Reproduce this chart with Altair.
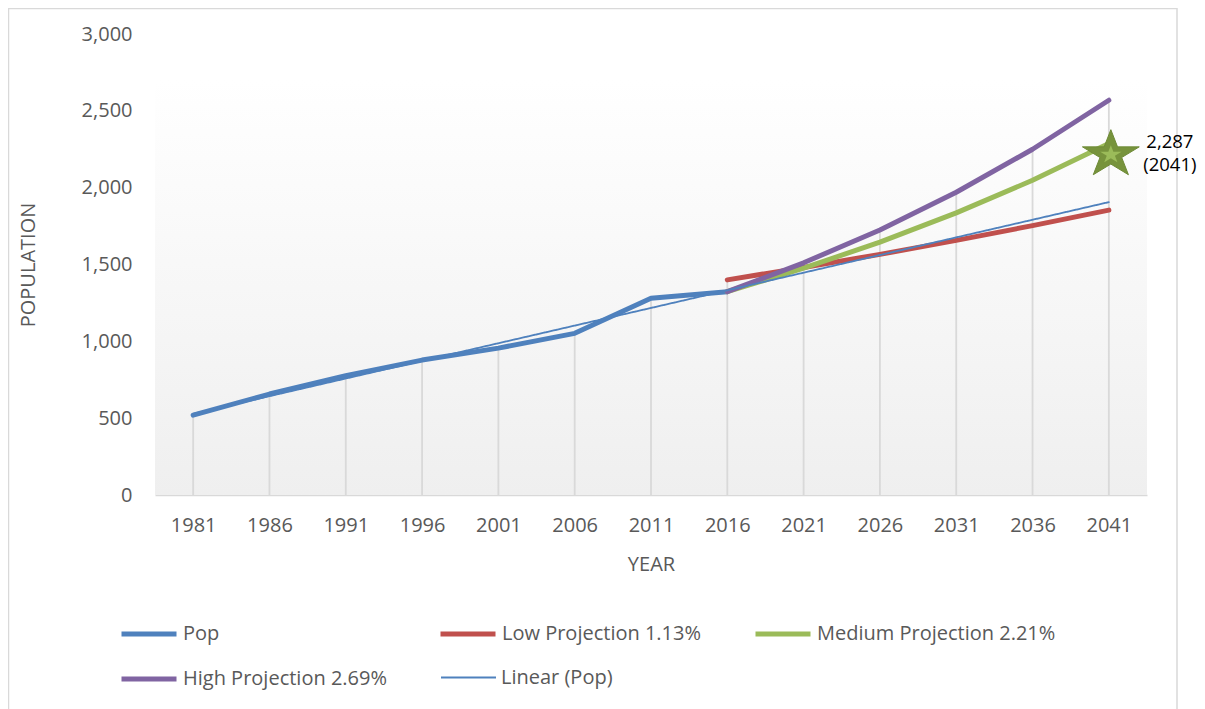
import altair as alt
import pandas as pd

FONT = "Open Sans"

# ---------------- data ----------------
years = [1981, 1986, 1991, 1996, 2001, 2006, 2011, 2016, 2021, 2026, 2031, 2036, 2041]
pop_years = [1981, 1986, 1991, 1996, 2001, 2006, 2011, 2016]
pop_values = [520, 657, 776, 878, 956, 1052, 1280, 1323]
proj_years = [2016, 2021, 2026, 2031, 2036, 2041]
low_values = [1400, 1481, 1566, 1657, 1753, 1854]
medium_values = [1323, 1476, 1646, 1836, 2048, 2287]
high_values = [1323, 1511, 1725, 1970, 2250, 2569]

series_names = ["Pop", "Low Projection 1.13%", "Medium Projection 2.21%",
                "High Projection 2.69%"]
series_colors = ["#4f81bd", "#c0504d", "#9bbb59", "#8064a2"]
trend_name = "Linear (Pop)"
trend_color = "#4f81bd"

y_ticks = [0, 500, 1000, 1500, 2000, 2500, 3000]

callout_year = [2041]
callout_value = [2287]
callout_text = ["2,287\n(2041)"]

# ---------------- tables ----------------
rows = []
for y, v in zip(pop_years, pop_values):
    rows.append({"Year": y, "value": v, "series": series_names[0]})
for name, vals in zip(series_names[1:4], [low_values, medium_values, high_values]):
    for y, v in zip(proj_years, vals):
        rows.append({"Year": y, "value": v, "series": name})
long_df = pd.DataFrame(rows)
pop_df = pd.DataFrame({"Year": pop_years, "Pop": pop_values})
star_df = pd.DataFrame({"Year": callout_year, "value": callout_value, "label": callout_text})

W, H = 992, 461
THICK, THIN = 5, 1.8

xscale = alt.Scale(domain=[1978.5, 2043.5], nice=False, zero=False)
yscale = alt.Scale(domain=[0, 3000], nice=False)
xaxis = alt.Axis(values=years, format="d", grid=False, ticks=False, domain=True,
                 domainColor="#d9d9d9", domainWidth=1.5, labelPadding=20,
                 labelFontSize=20, titleFontSize=20, titlePadding=19,
                 labelFlush=False, labelOverlap=False)
yaxis = alt.Axis(values=y_ticks, format=",.0f", grid=False, ticks=False, domain=False,
                 labelPadding=23, labelFontSize=20, titleFontSize=20, titlePadding=43)

X = alt.X("Year:Q", scale=xscale, axis=xaxis, title="YEAR")


def Y(field):
    return alt.Y(field, scale=yscale, axis=yaxis, title="POPULATION")


LEG_X, LEG_Y = -36, 570
common_leg = dict(title=None, orient="none", direction="horizontal",
                  symbolType="stroke", symbolSize=3025, labelFont=FONT,
                  labelFontSize=20, labelColor="#595959", labelOffset=4,
                  padding=0, labelLimit=500)

color_scale = alt.Scale(domain=series_names, range=series_colors)
legend = alt.Legend(legendX=LEG_X, legendY=LEG_Y, columns=3, columnPadding=43,
                    rowPadding=5, symbolStrokeWidth=THICK, **common_leg)
trend_legend = alt.Legend(legendX=LEG_X + 321, legendY=LEG_Y + 45,
                          symbolStrokeWidth=THIN, symbolStrokeColor=trend_color,
                          **common_leg)

# chart border (decoration)
border = alt.Chart(pd.DataFrame({"a": [0]})).mark_rect(
    fillOpacity=0, stroke="#d9d9d9", strokeWidth=1.5
).encode(x=alt.value(-146.5), x2=alt.value(1022), y=alt.value(-25.5), y2=alt.value(700))

# plot-area gradient
bg = alt.Chart(pd.DataFrame({"a": [0]})).mark_rect(
    fill=alt.LinearGradient(
        gradient="linear",
        stops=[alt.GradientStop(color="#ffffff", offset=0.1),
               alt.GradientStop(color="#efefef", offset=1)],
        x1=0, x2=0, y1=0, y2=1),
).encode(x=alt.value(0), x2=alt.value(W), y=alt.value(0), y2=alt.value(H))

drops = alt.Chart(long_df).transform_aggregate(
    top="max(value)", groupby=["Year"]
).mark_rule(color="#d9d9d9", strokeWidth=1.8).encode(
    x=X, y=Y("top:Q"), y2=alt.datum(0)
)

lines = alt.Chart(long_df).mark_line(
    strokeCap="round", strokeJoin="round", strokeWidth=THICK
).encode(
    x=X, y=Y("value:Q"),
    color=alt.Color("series:N", scale=color_scale, legend=legend),
)

trend = alt.Chart(pop_df).transform_regression(
    "Year", "Pop", extent=[1981, 2041]
).mark_line(strokeCap="round", strokeWidth=THIN, color=trend_color).encode(
    x=X, y=Y("Pop:Q"),
    strokeDash=alt.StrokeDash(
        "name:N",
        scale=alt.Scale(domain=[trend_name], range=[[1, 0]]),
        legend=trend_legend),
).transform_calculate(name=f"'{trend_name}'")

sx = 1.2
pts = [(0, -1), (0.2245, -0.309), (0.951, -0.309), (0.363, 0.118), (0.588, 0.809),
       (0, 0.382), (-0.588, 0.809), (-0.363, 0.118), (-0.951, -0.309), (-0.2245, -0.309)]
star_path = "M" + "L".join(f"{px * sx:.3f},{py:.3f}" for px, py in pts) + "Z"

star_outer = alt.Chart(star_df).mark_point(
    shape=star_path, size=2480, filled=True, fill="#77933c", stroke="#6e8a37",
    strokeWidth=1, opacity=1, yOffset=11, xOffset=2
).encode(x=X, y=Y("value:Q"))
star_inner = alt.Chart(star_df).mark_point(
    shape=star_path, size=350, filled=True, fill="#9bbb59", opacity=1,
    yOffset=11, xOffset=2
).encode(x=X, y=Y("value:Q"))

label = alt.Chart(star_df).mark_text(
    align="center", baseline="middle", dx=61, dy=-2, fontSize=18.5, lineHeight=23,
    color="#000000", font=FONT, lineBreak="\n"
).encode(x=X, y=Y("value:Q"), text="label:N")

chart = alt.layer(border, bg, drops, lines, trend, star_outer, star_inner, label).properties(
    width=W, height=H,
    padding={"left": 147, "top": 26, "right": 50, "bottom": 214},
    autosize="none",
).configure_view(stroke=None).configure_axis(
    labelFont=FONT, titleFont=FONT, titleFontWeight="normal",
    labelColor="#595959", titleColor="#595959"
)

chart.save("out.html", embed_options={"renderer": "svg", "actions": False})
